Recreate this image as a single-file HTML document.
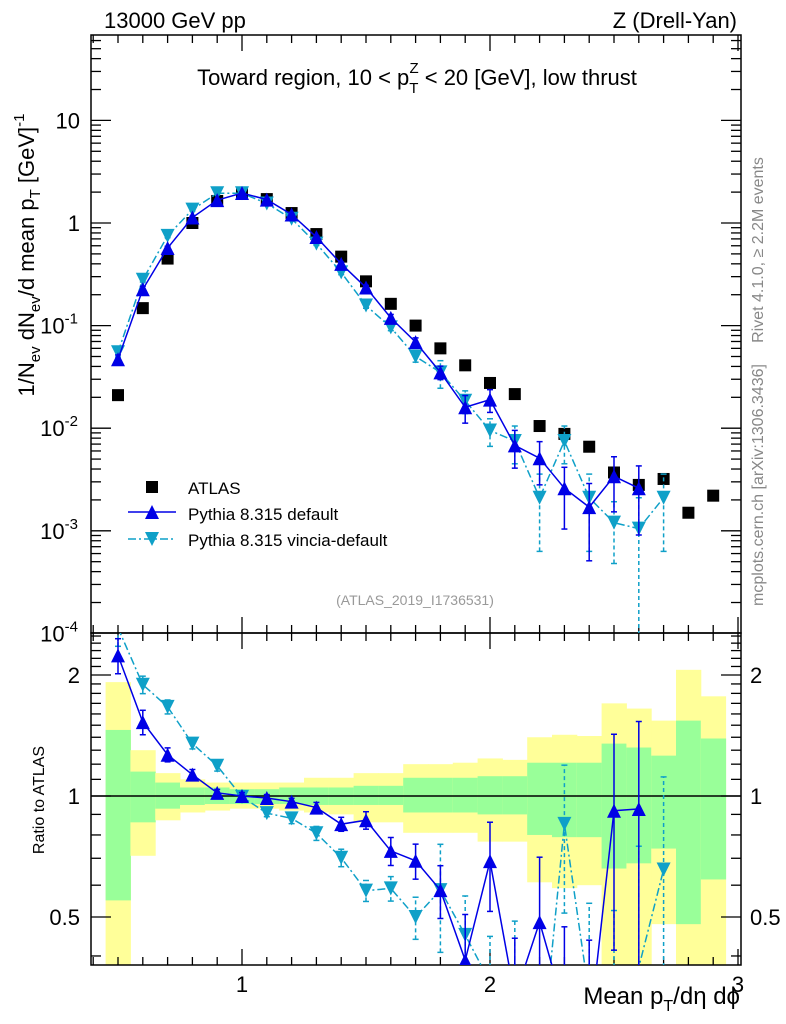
<!DOCTYPE html>
<html><head><meta charset="utf-8"><style>
html,body{margin:0;padding:0;background:#fff;width:786px;height:1024px;overflow:hidden}
svg{font-family:"Liberation Sans",sans-serif;display:block}
</style></head><body>
<svg id="c" width="786" height="1024" xmlns="http://www.w3.org/2000/svg">
<defs id="defs"></defs>
<text x="104" y="28" font-size="22">13000 GeV pp</text>
<text x="737" y="28" font-size="22" text-anchor="end">Z (Drell-Yan)</text>
<text x="417" y="85" font-size="22" text-anchor="middle">Toward region, 10 &lt; p<tspan font-size="15" dy="8">T</tspan><tspan font-size="15" dx="-9" dy="-20">Z</tspan><tspan dy="12"> &lt; 20 [GeV], low thrust</tspan></text>
<text transform="translate(763,250) rotate(-90)" font-size="16" fill="#888" text-anchor="middle">Rivet 4.1.0, ≥ 2.2M events</text>
<text transform="translate(763,485) rotate(-90)" font-size="16" fill="#888" text-anchor="middle">mcplots.cern.ch [arXiv:1306.3436]</text>
<text x="415" y="605" font-size="14" fill="#999" text-anchor="middle">(ATLAS_2019_I1736531)</text>
<text transform="translate(34,255) rotate(-90)" font-size="22" text-anchor="middle">1/N<tspan font-size="15" dy="6">ev</tspan><tspan dy="-6"> dN</tspan><tspan font-size="15" dy="6">ev</tspan><tspan dy="-6">/d mean p</tspan><tspan font-size="15" dy="6">T</tspan><tspan dy="-6"> [GeV]</tspan><tspan font-size="15" dy="-10">-1</tspan></text>
<text transform="translate(44,800) rotate(-90)" font-size="16" text-anchor="middle">Ratio to ATLAS</text>
<text x="740" y="1004" font-size="24" text-anchor="end">Mean p<tspan font-size="16" dy="7">T</tspan><tspan dy="-7">/dη dϕ</tspan></text>
<g id="g"></g>
</svg>
<script>
const xs=[0.5,0.6,0.7,0.8,0.9,1.0,1.1,1.2,1.3,1.4,1.5,1.6,1.7,1.8,1.9,2.0,2.1,2.2,2.3,2.4,2.5,2.6,2.7,2.8,2.9];
const atlas=[0.021,0.148,0.45,1.0,1.64,1.96,1.71,1.25,0.78,0.47,0.27,0.163,0.1,0.06,0.041,0.0276,0.0215,0.0105,0.0088,0.0066,0.0037,0.0028,0.0032,0.0015,0.0022];
const pyDef=[0.047,0.226,0.57,1.13,1.67,1.96,1.69,1.21,0.73,0.40,0.235,0.119,0.069,0.035,0.016,0.019,0.0068,0.0051,0.0026,0.0017,0.0034,0.0026];
const pyDefErr=[0.1,0.07,0.04,0.03,0.02,0.02,0.02,0.02,0.03,0.04,0.05,0.08,0.1,0.15,0.3,0.25,0.4,0.45,0.6,0.7,0.55,0.65];
const pyVin=[0.055,0.28,0.75,1.35,1.95,1.95,1.55,1.1,0.63,0.33,0.157,0.096,0.05,0.035,0.0185,0.0095,0.0075,0.0021,0.0075,0.0021,0.0012,0.00105,0.0021];
const pyVinErr=[0.1,0.05,0.04,0.03,0.03,0.02,0.02,0.03,0.04,0.05,0.06,0.07,0.12,0.3,0.25,0.3,0.4,0.7,0.4,0.7,0.6,1.0,0.7];
const yelUp=[1.92,1.30,1.14,1.10,1.08,1.08,1.08,1.08,1.11,1.11,1.14,1.14,1.20,1.20,1.21,1.24,1.23,1.40,1.42,1.41,1.70,1.65,1.54,2.06,1.77];
const greUp=[1.46,1.15,1.08,1.05,1.05,1.04,1.04,1.05,1.05,1.05,1.06,1.06,1.11,1.11,1.11,1.12,1.12,1.21,1.21,1.21,1.35,1.32,1.26,1.54,1.39];
const greLo=[0.55,0.86,0.93,0.95,0.955,0.955,0.955,0.955,0.95,0.95,0.95,0.95,0.91,0.91,0.91,0.90,0.90,0.80,0.79,0.79,0.66,0.68,0.74,0.48,0.62];
const yelLo=[0.3,0.71,0.87,0.91,0.92,0.93,0.93,0.92,0.91,0.90,0.86,0.86,0.81,0.81,0.81,0.77,0.77,0.61,0.59,0.60,0.3,0.3,0.48,0.3,0.3];
const xTicks=[1,2,3];
const yTicks=[{v:10,l:"10"},{v:1,l:"1"},{v:0.1,l:"10",e:"-1"},{v:0.01,l:"10",e:"-2"},{v:0.001,l:"10",e:"-3"},{v:0.0001,l:"10",e:"-4"}];
const rTicks=[0.5,1,2];

const L=91,R=741,MT=35,MB=633,RB=965,RT=633;
const X=v=>242+(v-1)*248;
const Y=v=>Math.min(MB+2,Math.max(MT-2,223-Math.log10(v)*102.6));
const RY=v=>Math.min(RB+2,Math.max(RT-2,796-Math.log10(v)*402));
const g=document.getElementById('g');
const defs=document.getElementById('defs');
const NS="http://www.w3.org/2000/svg";
function el(t,a,p){const e=document.createElementNS(NS,t);for(const k in a)e.setAttribute(k,a[k]);(p||g).appendChild(e);return e;}
const clipM=el('clipPath',{id:'cm'},defs);el('rect',{x:L,y:MT,width:R-L,height:MB-MT},clipM);
const clipR=el('clipPath',{id:'cr'},defs);el('rect',{x:L,y:RT,width:R-L,height:RB-RT},clipR);
const bands=el('g',{'clip-path':'url(#cr)'});

xs.forEach((x,i)=>{
 const r1=el('rect',{x:X(x-0.05),y:RY(yelUp[i]),width:X(x+0.05)-X(x-0.05)+0.5,height:RY(yelLo[i])-RY(yelUp[i]),fill:'#ffff99'},bands);
 
 const r2=el('rect',{x:X(x-0.05),y:RY(greUp[i]),width:X(x+0.05)-X(x-0.05)+0.5,height:RY(greLo[i])-RY(greUp[i]),fill:'#99ff99'},bands);
 
});
el('line',{x1:L,x2:R,y1:796,y2:796,stroke:'#000','stroke-width':1.5});
el('rect',{x:L,y:MT,width:R-L,height:MB-MT,fill:'none',stroke:'#000','stroke-width':1.5});
el('rect',{x:L,y:RT,width:R-L,height:RB-RT,fill:'none',stroke:'#000','stroke-width':1.5});
for(let v=0.4;v<=3.0001;v+=0.1){const px=X(v);if(px<L||px>R)continue;const maj=Math.abs(v-Math.round(v))<1e-6;const h=maj?16:8;
 [[MT,1],[MB,-1],[RT,1],[RB,-1]].forEach(([y0,s])=>el('line',{x1:px,x2:px,y1:y0,y2:y0+s*h,stroke:'#000','stroke-width':1.3}));}
xTicks.forEach(v=>{const t=el('text',{x:X(v),y:992,'font-size':22,'text-anchor':'middle'});t.textContent=v;
 });
for(let d=-4;d<=1;d++)for(let m=1;m<=9;m++){const v=m*Math.pow(10,d);const py=223-Math.log10(v)*102.6;if(py<MT||py>MB)continue;const h=m==1?20:10;
 el('line',{x1:L,x2:L+h,y1:py,y2:py,stroke:'#000','stroke-width':1.3});el('line',{x1:R,x2:R-h,y1:py,y2:py,stroke:'#000','stroke-width':1.3});}
yTicks.forEach(t=>{const e=el('text',{x:t.e?78:80,y:223-Math.log10(t.v)*102.6+8,'font-size':22,'text-anchor':'end'});
 
 if(t.e){e.innerHTML=t.l+'<tspan font-size="15" dy="-10">'+t.e+'</tspan>';}else e.textContent=t.l;});
for(let v=0.4;v<=2.55;v+=0.1){const py=796-Math.log10(v)*402;if(py<RT||py>RB)continue;const maj=rTicks.some(r=>Math.abs(r-v)<1e-6);const h=maj?20:10;
 el('line',{x1:L,x2:L+h,y1:py,y2:py,stroke:'#000','stroke-width':1.3});el('line',{x1:R,x2:R-h,y1:py,y2:py,stroke:'#000','stroke-width':1.3});}
rTicks.forEach(v=>{[[80,'end'],[750,'start']].forEach(([x,a])=>{const t=el('text',{x:x,y:796-Math.log10(v)*402+8,'font-size':22,'text-anchor':a});t.textContent=v;
 });});
function tri(p,x,y,down,c){const s=7;const pts=down?[[x-s,y-s],[x+s,y-s],[x,y+s]]:[[x-s,y+s],[x+s,y+s],[x,y-s]];
 return el('polygon',{points:pts.map(q=>q.join(',')).join(' '),fill:c},p);}
function series(vals,errs,color,dash,down,name){
 const gm=el('g',{'clip-path':'url(#cm)'});
 const gr=el('g',{'clip-path':'url(#cr)'});
 const pm=vals.map((v,i)=>X(xs[i])+','+Y(v)).join(' ');
 const pr=vals.map((v,i)=>X(xs[i])+','+(796-Math.log10(v/atlas[i])*402)).join(' ');
 const a={fill:'none',stroke:color,'stroke-width':1.5};if(dash)a['stroke-dasharray']=dash;
 el('polyline',Object.assign({points:pm},a),gm);el('polyline',Object.assign({points:pr},a),gr);
 vals.forEach((v,i)=>{const x=X(xs[i]);const lo=Math.max(v*(1-errs[i]),1e-6),hi=v*(1+errs[i]);
  [[gm,Y,MT,MB],[gr,u=>RY(u/atlas[i]),RT,RB]].forEach(([p,f,t0,b0])=>{
   const b={stroke:color,'stroke-width':1.5};if(dash)b['stroke-dasharray']='4,3';
   el('line',Object.assign({x1:x,x2:x,y1:f(lo),y2:f(hi)},b),p);
   el('line',{x1:x-3,x2:x+3,y1:f(lo),y2:f(lo),stroke:color,'stroke-width':1.5},p);
   el('line',{x1:x-3,x2:x+3,y1:f(hi),y2:f(hi),stroke:color,'stroke-width':1.5},p);
   const yy=f(v);if(yy>t0-1&&yy<b0+1&&yy>=t0&&yy<=b0){const m=tri(p,x,yy,down,color);}});});
}
const ga=el('g',{'clip-path':'url(#cm)'});
atlas.forEach((v,i)=>{const r=el('rect',{x:X(xs[i])-6,y:Y(v)-6,width:12,height:12,fill:'#000'},ga);
 });
series(pyVin,pyVinErr,'#0fa0c8','8,3,2,3',true,'vincia');
series(pyDef,pyDefErr,'#0000e6',null,false,'pythia-default');
const lg=el('g',{});
el('rect',{x:146,y:481,width:12,height:12,fill:'#000'},lg);
el('line',{x1:128,x2:176,y1:512,y2:512,stroke:'#0000e6','stroke-width':1.5},lg);tri(lg,152,512,false,'#0000e6');
el('line',{x1:128,x2:176,y1:539,y2:539,stroke:'#0fa0c8','stroke-width':1.5,'stroke-dasharray':'8,3,2,3'},lg);tri(lg,152,539,true,'#0fa0c8');
[['ATLAS',494],['Pythia 8.315 default',520],['Pythia 8.315 vincia-default',546]].forEach(([s,y])=>{const t=el('text',{x:188,y:y,'font-size':17},lg);t.textContent=s;
 });
</script>
</body></html>
